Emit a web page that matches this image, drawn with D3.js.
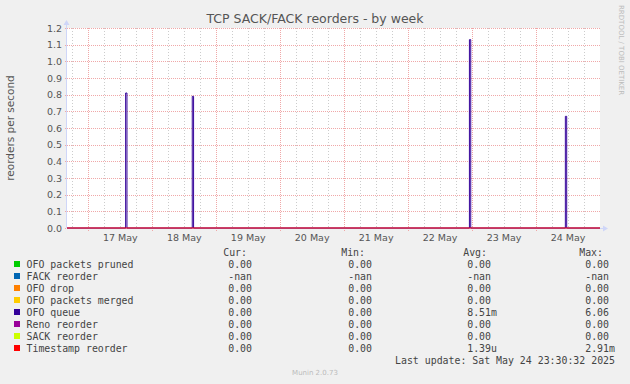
<!DOCTYPE html>
<html>
<head>
<meta charset="utf-8">
<script src="https://cdn.jsdelivr.net/npm/d3@7"></script>
<style>
body { margin: 0; background: #f0f0f0; }
svg { display: block; }
</style>
</head>
<body>
<script>
// legend rows
var names = ["OFO packets pruned", "FACK reorder", "OFO drop", "OFO packets merged",
             "OFO queue", "Reno reorder", "SACK reorder", "Timestamp reorder"];
var colors = ["#00cc00", "#0066b3", "#ff8000", "#ffcc00", "#330099", "#990099", "#ccff00", "#ff0000"];
var curVals = ["0.00", "-nan", "0.00", "0.00", "0.00", "0.00", "0.00", "0.00"];
var minVals = ["0.00", "-nan", "0.00", "0.00", "0.00", "0.00", "0.00", "0.00"];
var avgVals = ["0.00", "-nan", "0.00", "0.00", "8.51m", "0.00", "0.00", "1.39u"];
var maxVals = ["0.00", "-nan", "0.00", "0.00", "6.06", "0.00", "0.00", "2.91m"];

// OFO queue samples (step)
var ofoTimes = ["2025-05-16T16:00", "2025-05-17T14:00", "2025-05-17T14:30", "2025-05-18T15:00", "2025-05-18T15:30",
                "2025-05-22T23:00", "2025-05-22T23:30", "2025-05-24T11:00", "2025-05-24T11:30", "2025-05-25T00:00"];
var ofoValues = [0, 0.81, 0, 0.79, 0, 1.13, 0, 0.67, 0, 0];

// flat series
var zeroTimes = ["2025-05-16T16:00", "2025-05-25T00:00"];
var zeroValues = [0, 0];

var yTicks = [0, 0.1, 0.2, 0.3, 0.4, 0.5, 0.6, 0.7, 0.8, 0.9, 1.0, 1.1, 1.2];
var dayLabels = ["2025-05-17T12:00", "2025-05-18T12:00", "2025-05-19T12:00", "2025-05-20T12:00",
                 "2025-05-21T12:00", "2025-05-22T12:00", "2025-05-23T12:00", "2025-05-24T12:00"];

var w = 630;
var h = 384;
var pLeft = 67, pRight = 600, pTop = 28, pBottom = 228;

var parse = d3.utcParse("%Y-%m-%dT%H:%M");

var xScale = d3.scaleUtc()
    .domain([parse("2025-05-16T16:00"), parse("2025-05-25T00:00")])
    .range([pLeft, pRight]);

var yScale = d3.scaleLinear()
    .domain([0, 1.2])
    .range([pBottom, pTop]);

var svg = d3.select("body").append("svg")
    .attr("width", w)
    .attr("height", h);

svg.append("rect")
    .attr("x", pLeft).attr("y", pTop)
    .attr("width", pRight - pLeft).attr("height", pBottom - pTop)
    .attr("fill", "#ffffff");

var grid = svg.append("g");

// minor vertical grid every 6 hours
var sixHours = d3.utcHour.every(6).range(xScale.domain()[0], xScale.domain()[1]);
grid.selectAll(".vminor")
    .data(sixHours.filter(function(d){ return d.getUTCHours() != 0; }))
    .enter().append("line")
    .attr("x1", function(d){ return Math.round(xScale(d)) + 0.5; })
    .attr("x2", function(d){ return Math.round(xScale(d)) + 0.5; })
    .attr("y1", pTop).attr("y2", pBottom)
    .attr("stroke", "#cccccc")
    .attr("stroke-dasharray", "1,2");

// horizontal major grid
grid.selectAll(".hmajor")
    .data(yTicks)
    .enter().append("line")
    .attr("x1", pLeft - 2).attr("x2", pRight)
    .attr("y1", function(d){ return Math.round(yScale(d)) + 0.5; })
    .attr("y2", function(d){ return Math.round(yScale(d)) + 0.5; })
    .attr("stroke", "#f0a8a8")
    .attr("stroke-dasharray", "1,1");

// vertical major grid at midnight
var days = d3.utcDay.range(xScale.domain()[0], xScale.domain()[1]);
grid.selectAll(".vmajor")
    .data(days)
    .enter().append("line")
    .attr("x1", function(d){ return Math.round(xScale(d)) + 0.5; })
    .attr("x2", function(d){ return Math.round(xScale(d)) + 0.5; })
    .attr("y1", pTop).attr("y2", pBottom + 3)
    .attr("stroke", "#f0a8a8")
    .attr("stroke-dasharray", "1,1");

// axes
var axisColor = "#cfd6f8";
svg.append("line")
    .attr("x1", pLeft - 0.5).attr("x2", pLeft - 0.5)
    .attr("y1", pBottom).attr("y2", pTop - 4)
    .attr("stroke", axisColor);
svg.append("path")
    .attr("d", "M" + (pLeft - 3.5) + "," + (pTop - 3) + "L" + (pLeft - 0.5) + "," + (pTop - 8) + "L" + (pLeft + 2.5) + "," + (pTop - 3) + "Z")
    .attr("fill", axisColor);
svg.append("line")
    .attr("x1", pLeft).attr("x2", pRight + 4)
    .attr("y1", pBottom + 0.5).attr("y2", pBottom + 0.5)
    .attr("stroke", axisColor);
svg.append("path")
    .attr("d", "M" + (pRight + 3) + "," + (pBottom - 2.5) + "L" + (pRight + 8) + "," + (pBottom + 0.5) + "L" + (pRight + 3) + "," + (pBottom + 3.5) + "Z")
    .attr("fill", axisColor);

// y tick labels
svg.append("g").selectAll("text")
    .data(yTicks)
    .enter().append("text")
    .attr("x", pLeft - 5)
    .attr("y", function(d){ return yScale(d) + 3.5; })
    .attr("text-anchor", "end")
    .attr("font-family", "DejaVu Sans")
    .attr("font-size", "9.5px")
    .attr("fill", "#555")
    .text(function(d){ return d.toFixed(1); });

// x tick labels
svg.append("g").selectAll("text")
    .data(dayLabels)
    .enter().append("text")
    .attr("x", function(d){ return xScale(parse(d)); })
    .attr("y", 241)
    .attr("text-anchor", "middle")
    .attr("font-family", "DejaVu Sans")
    .attr("font-size", "9.5px")
    .attr("fill", "#555")
    .text(function(d){ return d3.utcFormat("%-d %b")(parse(d)); });

// lines
var line = d3.line()
    .x(function(d){ return xScale(d.t); })
    .y(function(d){ return yScale(d.v); })
    .curve(d3.curveStepAfter);

var ofoData = ofoTimes.map(function(t, i){ return {t: parse(t), v: ofoValues[i]}; });
var zeroData = zeroTimes.map(function(t, i){ return {t: parse(t), v: zeroValues[i]}; });

svg.append("path")
    .attr("d", line(ofoData))
    .attr("fill", "none")
    .attr("stroke", colors[4])
    .attr("stroke-width", 1);

svg.append("path")
    .attr("d", line(zeroData))
    .attr("fill", "none")
    .attr("stroke", "#ff0000")
    .attr("stroke-width", 1);

// title
svg.append("text")
    .attr("x", 315).attr("y", 23)
    .attr("text-anchor", "middle")
    .attr("font-family", "DejaVu Sans")
    .attr("font-size", "12.5px")
    .attr("fill", "#555")
    .text("TCP SACK/FACK reorders - by week");

svg.append("text")
    .attr("transform", "translate(14,128) rotate(-90)")
    .attr("text-anchor", "middle")
    .attr("font-family", "DejaVu Sans")
    .attr("font-size", "10.5px")
    .attr("fill", "#555")
    .text("reorders per second");

svg.append("text")
    .attr("transform", "translate(619,5) rotate(90)")
    .attr("font-family", "DejaVu Sans")
    .attr("font-size", "7px")
    .attr("fill", "#bbb")
    .text("RRDTOOL / TOBI OETIKER");

// legend
var mono = "DejaVu Sans Mono";
var legend = svg.append("g")
    .attr("font-family", mono)
    .attr("font-size", "9.9px")
    .attr("fill", "#444");

var headers = [["Cur:", 247], ["Min:", 365], ["Avg:", 487], ["Max:", 603]];
legend.selectAll(".hdr")
    .data(headers)
    .enter().append("text")
    .attr("x", function(d){ return d[1]; })
    .attr("y", 256)
    .attr("text-anchor", "end")
    .text(function(d){ return d[0]; });

var rows = legend.selectAll(".row")
    .data(names)
    .enter().append("g")
    .attr("transform", function(d, i){ return "translate(0," + (268 + i * 12) + ")"; });

rows.append("rect")
    .attr("x", 14).attr("y", -7)
    .attr("width", 6).attr("height", 6)
    .attr("fill", function(d, i){ return colors[i]; });

rows.append("text")
    .attr("x", 26.5)
    .text(function(d){ return d; });

var cols = [[curVals, 252], [minVals, 372], [avgVals, 491], [maxVals, 609]];
cols.forEach(function(c){
    rows.append("text")
        .attr("x", c[1])
        .attr("text-anchor", "end")
        .text(function(d, i){ return c[0][i].replace(/[mu]$/, ""); });
    rows.append("text")
        .attr("x", c[1])
        .text(function(d, i){ var m = c[0][i].match(/[mu]$/); return m ? m[0] : ""; });
});

legend.append("text")
    .attr("x", 615).attr("y", 364)
    .attr("text-anchor", "end")
    .text("Last update: Sat May 24 23:30:32 2025");

svg.append("text")
    .attr("x", 315).attr("y", 375)
    .attr("text-anchor", "middle")
    .attr("font-family", "DejaVu Sans")
    .attr("font-size", "7px")
    .attr("fill", "#bbb")
    .text("Munin 2.0.73");
</script>
</body>
</html>
